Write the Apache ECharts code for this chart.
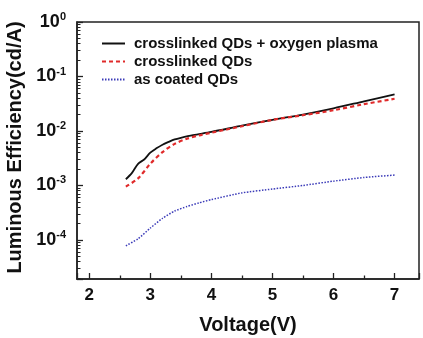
<!DOCTYPE html>
<html>
<head>
<meta charset="utf-8">
<script src="https://cdn.jsdelivr.net/npm/echarts@6/dist/echarts.min.js"></script>
<style>
  html, body { margin: 0; padding: 0; background: #fff; }
  #chart { width: 423px; height: 338px; }
</style>
</head>
<body>
<div id="chart"></div>
<script>
var chart = echarts.init(document.getElementById("chart"));

// voltage (V) for each curve
var vPlasma = [2.6, 2.7, 2.8, 2.9, 3.0, 3.1, 3.2, 3.3, 3.4, 3.5, 3.7, 4.0, 4.5, 5.0, 5.5, 6.0, 6.5, 7.0];
var effPlasma = [1.3e-3, 1.7e-3, 2.5e-3, 3.0e-3, 4.0e-3, 4.8e-3, 5.6e-3, 6.3e-3, 7.0e-3, 7.5e-3, 8.4e-3, 9.6e-3, 1.25e-2, 1.6e-2, 2.0e-2, 2.6e-2, 3.5e-2, 4.7e-2];

var vCross = [2.6, 2.8, 3.0, 3.2, 3.4, 3.6, 3.8, 4.0, 4.5, 5.0, 5.5, 6.0, 6.5, 7.0];
var effCross = [9.5e-4, 1.35e-3, 2.5e-3, 4.1e-3, 5.8e-3, 7.2e-3, 8.3e-3, 9.3e-3, 1.22e-2, 1.6e-2, 1.95e-2, 2.4e-2, 3.1e-2, 3.9e-2];

var vCoated = [2.6, 2.8, 3.0, 3.2, 3.4, 3.6, 3.8, 4.0, 4.5, 5.0, 5.5, 6.0, 6.5, 7.0];
var effCoated = [7.8e-5, 1.05e-4, 1.65e-4, 2.5e-4, 3.4e-4, 4.1e-4, 4.8e-4, 5.5e-4, 7.3e-4, 8.6e-4, 1.0e-3, 1.2e-3, 1.4e-3, 1.55e-3];

var seriesNames = ["crosslinked QDs + oxygen plasma", "crosslinked QDs", "as coated QDs"];

// tick positions on the log axis (2..9 x 10^n)
var minorTicks = [];
for (var e = -5; e <= -1; e++) {
    for (var k = 2; k <= 9; k++) {
        var t = k * Math.pow(10, e);
        if (t > 1.92e-5 && t < 1) minorTicks.push(t);
    }
}

function pairs(xs, ys) {
    return xs.map(function (x, i) { return [x, ys[i]]; });
}

var font = "Liberation Sans";

var option = {
    animation: false,
    grid: {
        left: 77,
        top: 22,
        width: 342,
        height: 257,
        outerBoundsMode: "none",
        show: true,
        borderColor: "#222",
        borderWidth: 1.5,
        backgroundColor: "transparent"
    },
    legend: {
        data: seriesNames,
        orient: "vertical",
        left: 96,
        top: 31,
        itemWidth: 23,
        itemHeight: 14,
        itemGap: 3,
        itemStyle: { opacity: 0 },
        textStyle: {
            fontFamily: font,
            fontWeight: "bold",
            fontSize: 15,
            color: "#111",
            padding: [0, 0, 0, 4]
        }
    },
    xAxis: {
        type: "value",
        min: 1.8,
        max: 7.4,
        name: "Voltage(V)",
        nameLocation: "middle",
        nameGap: 36,
        nameTextStyle: {
            fontFamily: font,
            fontWeight: "bold",
            fontSize: 20,
            color: "#111"
        },
        axisLine: { lineStyle: { color: "#222", width: 1.5 } },
        axisTick: { inside: true, length: 6, lineStyle: { color: "#222", width: 1.3 } },
        minorTick: { show: true, splitNumber: 2, length: 3.5, lineStyle: { color: "#222", width: 1.3 } },
        splitLine: { show: false },
        axisLabel: {
            margin: 8,
            fontFamily: font,
            fontWeight: "bold",
            fontSize: 17,
            color: "#111",
            formatter: function (v) {
                return Math.abs(v - Math.round(v)) < 1e-6 ? String(Math.round(v)) : "";
            }
        }
    },
    yAxis: [
        {
            type: "log",
            logBase: 10,
            min: 1.92e-5,
            max: 1,
            name: "Luminous Efficiency(cd/A)",
            nameLocation: "middle",
            nameGap: 47,
            nameTextStyle: {
                fontFamily: font,
                fontWeight: "bold",
                fontSize: 20,
                color: "#111",
                padding: [0, 0, 0, 6]
            },
            axisLine: { show: true, lineStyle: { color: "#222", width: 1.5 } },
            axisTick: { show: true, inside: true, length: 6, lineStyle: { color: "#222", width: 1.3 } },
            splitLine: { show: false },
            axisLabel: {
                margin: 11,
                formatter: function (v) {
                    var p = Math.log10(v);
                    if (Math.abs(p - Math.round(p)) > 1e-6) return "";
                    return "{b|10}{s|" + Math.round(p) + "}";
                },
                rich: {
                    b: { fontFamily: font, fontWeight: "bold", fontSize: 18, color: "#111" },
                    s: { fontFamily: font, fontWeight: "bold", fontSize: 11, color: "#111", verticalAlign: "bottom", padding: [0, 0, 10, 0] }
                }
            }
        },
        {
            type: "log",
            logBase: 10,
            min: 1.92e-5,
            max: 1,
            position: "left",
            axisLine: { show: false },
            axisLabel: { show: false },
            splitLine: { show: false },
            axisTick: {
                show: true,
                inside: true,
                length: 3.5,
                customValues: minorTicks,
                lineStyle: { color: "#222", width: 1 }
            }
        }
    ],
    series: [
        {
            name: seriesNames[0],
            type: "line",
            symbol: "none",
            smooth: 0.3,
            color: "#111",
            lineStyle: { color: "#111", width: 1.8, type: "solid" },
            data: pairs(vPlasma, effPlasma)
        },
        {
            name: seriesNames[1],
            type: "line",
            symbol: "none",
            smooth: 0.3,
            color: "#e02a2a",
            lineStyle: { color: "#e02a2a", width: 2.2, type: [4, 3] },
            data: pairs(vCross, effCross)
        },
        {
            name: seriesNames[2],
            type: "line",
            symbol: "none",
            smooth: 0.2,
            color: "#3a3ab8",
            lineStyle: { color: "#3a3ab8", width: 1.5, type: [1.5, 1.5] },
            data: pairs(vCoated, effCoated)
        }
    ]
};

chart.setOption(option);
</script>
</body>
</html>
